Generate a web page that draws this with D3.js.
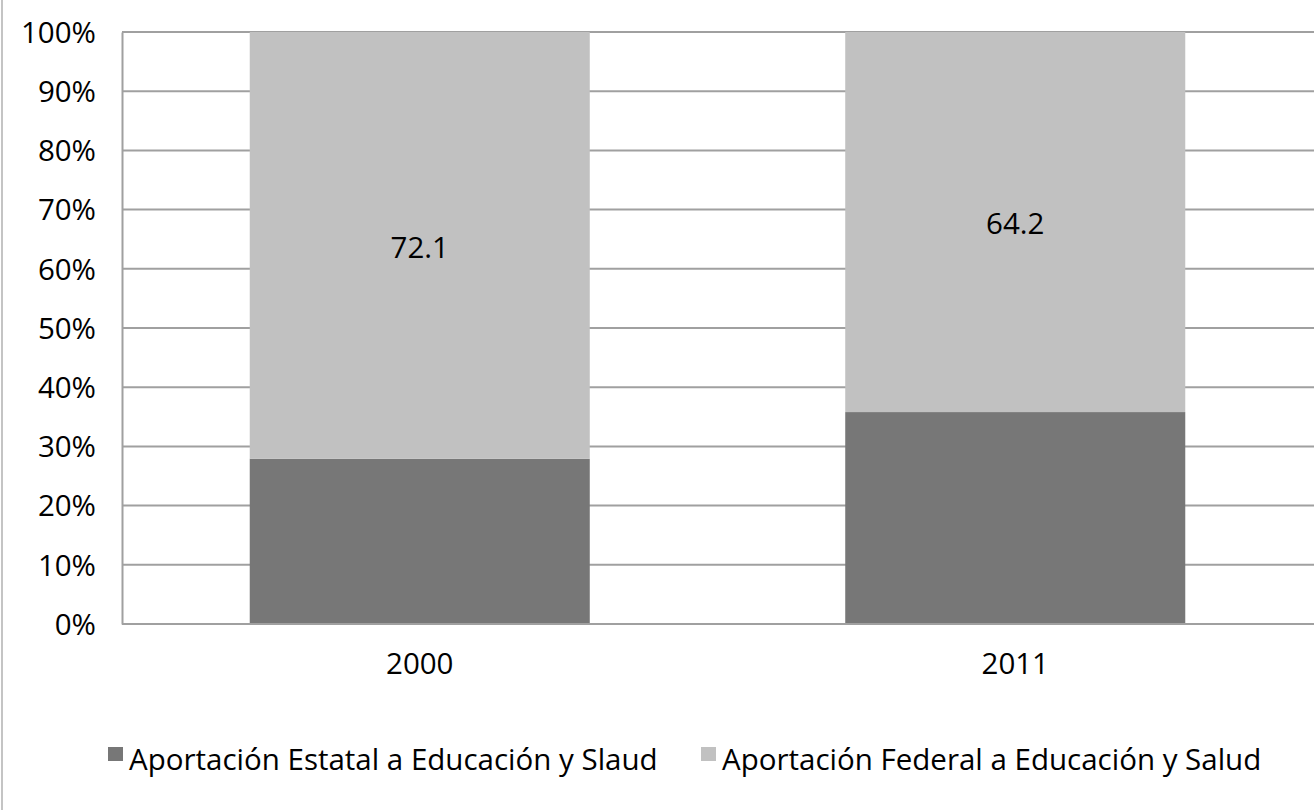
<!DOCTYPE html>
<html>
<head>
<meta charset="utf-8">
<script src="https://cdn.jsdelivr.net/npm/d3@7"></script>
<style>
  html, body { margin: 0; padding: 0; background: #fff; }
  svg { display: block; }
  text { font-family: "Open Sans", sans-serif; fill: #000; }
</style>
</head>
<body>
<svg id="chart" width="1314" height="810"></svg>
<script>
const categories = ["2000", "2011"];
const estatal = [27.9, 35.8];
const federal = [72.1, 64.2];
const seriesNames = ["Aportación Estatal a Educación y Slaud", "Aportación Federal a Educación y Salud"];
const tickValues = [0, 10, 20, 30, 40, 50, 60, 70, 80, 90, 100];
const tickLabels = ["0%", "10%", "20%", "30%", "40%", "50%", "60%", "70%", "80%", "90%", "100%"];
const colors = ["#777777", "#c1c1c1"];

const svg = d3.select("#chart");
const W = 1314, H = 810;
const FS = 29.5;
const margin = { left: 122, top: 32, right: 1 };
const plotBottom = 624;

const x = d3.scaleBand().domain(categories).range([margin.left, W - margin.right]).paddingInner(0.429).paddingOuter(0.2145);
const y = d3.scaleLinear().domain([0, 100]).range([plotBottom, margin.top]);

// outer frame (left edge)
svg.append("line").attr("x1", 2).attr("x2", 2).attr("y1", 0).attr("y2", H)
  .attr("stroke", "#b0b0b0").attr("stroke-width", 1.5);

// gridlines
svg.append("g").selectAll("line").data(tickValues).join("line")
  .attr("x1", margin.left).attr("x2", W)
  .attr("y1", d => y(d)).attr("y2", d => y(d))
  .attr("stroke", "#a0a0a0").attr("stroke-width", 2);

// stacked data
const rows = categories.map((c, i) => ({ cat: c, estatal: estatal[i], federal: federal[i] }));
const stack = d3.stack().keys(["estatal", "federal"])(rows);

svg.append("g").selectAll("g").data(stack).join("g")
  .attr("fill", (d, i) => colors[i])
  .selectAll("rect").data(d => d).join("rect")
  .attr("x", d => x(d.data.cat))
  .attr("width", x.bandwidth())
  .attr("y", d => y(d[1]))
  .attr("height", d => y(d[0]) - y(d[1]));

// data labels for federal series
svg.append("g").selectAll("text").data(stack[1]).join("text")
  .attr("x", d => x(d.data.cat) + x.bandwidth() / 2)
  .attr("y", d => (y(d[0]) + y(d[1])) / 2 + 2)
  .attr("dy", "0.35em")
  .attr("text-anchor", "middle")
  .attr("font-size", FS)
  .text(d => d.data.federal.toFixed(1));

// y axis
const yAxis = d3.axisLeft(y).tickValues(tickValues).tickFormat((d, i) => tickLabels[i]).tickSize(0).tickPadding(26);
const yg = svg.append("g").attr("transform", `translate(${margin.left},0)`).call(yAxis);
yg.select(".domain").attr("stroke", "#a0a0a0").attr("stroke-width", 2);
yg.selectAll("text").attr("font-size", FS).attr("font-family", "Open Sans").attr("fill", "#000").attr("dy", "0.35em");

// x axis
const xAxis = d3.axisBottom(x).tickSize(0).tickPadding(29);
const xg = svg.append("g").attr("transform", `translate(0,${plotBottom})`).call(xAxis);
xg.select(".domain").attr("d", `M${margin.left},0H${W}`).attr("stroke", "#a0a0a0").attr("stroke-width", 2);
xg.selectAll("text").attr("font-size", FS).attr("font-family", "Open Sans").attr("fill", "#000");

// legend
const legendX = [108, 701];
const leg = svg.append("g").selectAll("g").data(seriesNames).join("g")
  .attr("transform", (d, i) => `translate(${legendX[i]},747)`);
leg.append("rect").attr("width", 15).attr("height", 14).attr("fill", (d, i) => colors[i]);
leg.append("text").attr("x", 21).attr("y", 23).attr("font-size", FS).text(d => d);
</script>
</body>
</html>
